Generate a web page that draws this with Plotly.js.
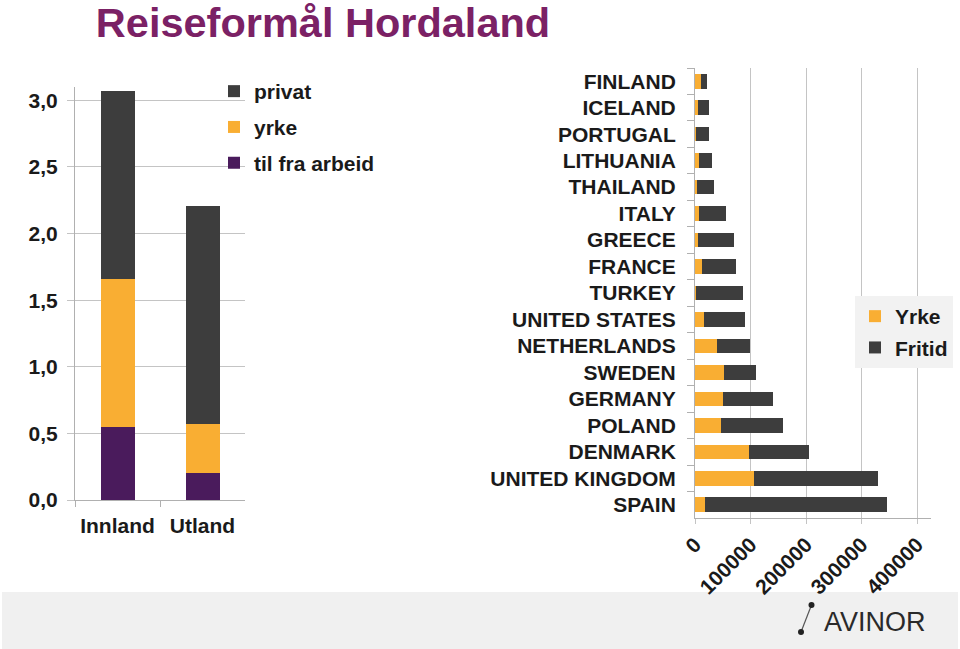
<!DOCTYPE html>
<html>
<head>
<meta charset="utf-8">
<script src="https://cdn.plot.ly/plotly-3.0.1.min.js"></script>
<style>html,body{margin:0;padding:0;background:#fff;}#chart{width:960px;height:649px;}</style>
</head>
<body>
<div id="chart"></div>
<script>
// Left chart data
const regions = ['Innland', 'Utland'];
const tilFraArbeid = [0.55, 0.20];
const yrkeLeft = [1.11, 0.37];
const privat = [1.41, 1.64];

// Right chart data (top to bottom)
const countries = ['FINLAND', 'ICELAND', 'PORTUGAL', 'LITHUANIA', 'THAILAND', 'ITALY', 'GREECE', 'FRANCE', 'TURKEY',
  'UNITED STATES', 'NETHERLANDS', 'SWEDEN', 'GERMANY', 'POLAND', 'DENMARK', 'UNITED KINGDOM', 'SPAIN'];
const yrkeRight = [10000, 6000, 1500, 7000, 4000, 7000, 5000, 12600, 1000,
  16200, 39000, 51600, 50500, 46800, 97300, 106300, 17400];
const fritid = [12000, 18500, 24000, 24000, 31000, 49000, 66000, 61000, 85000,
  74500, 60700, 59000, 90500, 111000, 108500, 222600, 328500];
const xTicks = [0, 100000, 200000, 300000, 400000];

const C_DARK = '#3d3d3d', C_ORANGE = '#f9ae33', C_PURPLE = '#4a1b5c';
const FONT = 'Liberation Sans, Arial, sans-serif';
const bold = (s, c) => ({family: FONT, size: s, color: c || '#1a1a1a', weight: 'bold'});
const W = 960, H = 649;
const px = x => x / W, py = y => 1 - y / H;
const LW = 0.4, RW = 0.55;

const traces = [
  {type: 'bar', name: 'til fra arbeid', x: regions, y: tilFraArbeid, width: LW, marker: {color: C_PURPLE},
   xaxis: 'x', yaxis: 'y', legend: 'legend', legendgroup: 'g3', legendrank: 3},
  {type: 'bar', name: 'yrke', x: regions, y: yrkeLeft, width: LW, marker: {color: C_ORANGE},
   xaxis: 'x', yaxis: 'y', legend: 'legend', legendgroup: 'g2', legendrank: 2},
  {type: 'bar', name: 'privat', x: regions, y: privat, width: LW, marker: {color: C_DARK},
   xaxis: 'x', yaxis: 'y', legend: 'legend', legendgroup: 'g1', legendrank: 1},
  {type: 'bar', orientation: 'h', name: 'Yrke', y: countries, x: yrkeRight, width: RW, marker: {color: C_ORANGE},
   xaxis: 'x2', yaxis: 'y2', legend: 'legend2', legendgroup: 'd', legendrank: 1},
  {type: 'bar', orientation: 'h', name: 'Fritid', y: countries, x: fritid, width: RW, marker: {color: C_DARK},
   xaxis: 'x2', yaxis: 'y2', legend: 'legend2', legendgroup: 'e', legendrank: 2}
];

const gridC = '#c4c4c4', lineC = '#b0b0b0';

const layout = {
  width: W, height: H,
  margin: {l: 0, r: 0, t: 0, b: 0},
  paper_bgcolor: '#ffffff', plot_bgcolor: 'rgba(0,0,0,0)',
  barmode: 'stack',
  separators: ',.',
  showlegend: true,
  title: {text: 'Reiseformål Hordaland', font: bold(41.5, '#7b2165'),
    x: px(323), xanchor: 'center', xref: 'paper', y: 1 - 22 / H, yanchor: 'middle', yref: 'container'},
  xaxis: {domain: [px(75), px(245)], anchor: 'y', type: 'category', range: [-0.5, 1.5],
    showline: true, linecolor: lineC, linewidth: 1, ticks: 'outside', ticklen: 6, tickcolor: lineC,
    tickson: 'boundaries', showgrid: false, tickfont: bold(21), ticklabelstandoff: 7, fixedrange: true},
  yaxis: {domain: [py(500), py(87)], anchor: 'x', range: [0, 3.1], dtick: 0.5, tick0: 0, tickformat: '.1f',
    showline: true, linecolor: lineC, ticks: 'outside', ticklen: 7, tickcolor: gridC,
    showgrid: true, gridcolor: gridC, zeroline: false, tickfont: bold(21), ticklabelstandoff: 5},
  xaxis2: {domain: [px(695), px(931)], anchor: 'y2', range: [0, 425000], tickvals: xTicks,
    ticktext: xTicks.map(String), tickangle: -45, showline: true, linecolor: lineC,
    ticks: 'outside', ticklen: 5, tickcolor: gridC, showgrid: true, gridcolor: gridC, zeroline: false,
    tickfont: bold(21)},
  yaxis2: {domain: [py(518), py(68)], anchor: 'x2', type: 'category', autorange: 'reversed',
    showline: true, linecolor: lineC, ticks: 'outside', ticklen: 7, tickcolor: lineC,
    tickson: 'boundaries', showgrid: false, tickfont: bold(21), ticklabelstandoff: 14},
  legend: {x: px(214), y: py(71), xanchor: 'left', yanchor: 'top', traceorder: 'grouped',
    tracegroupgap: 5.5, font: bold(21), bgcolor: 'rgba(0,0,0,0)', itemclick: false},
  legend2: {x: px(855), y: py(296), xanchor: 'left', yanchor: 'top', traceorder: 'grouped',
    tracegroupgap: 1, font: bold(21), bgcolor: '#f2f2f2', itemclick: false},
  shapes: [
    {type: 'rect', xref: 'paper', yref: 'paper', x0: px(2), x1: px(958), y0: 0, y1: py(592),
     fillcolor: '#f0f0f0', line: {width: 0}, layer: 'below'},
    {type: 'line', xref: 'paper', yref: 'paper', x0: px(801), y0: py(632), x1: px(811.5), y1: py(605),
     line: {color: '#555', width: 1.2}},
    {type: 'circle', xref: 'paper', yref: 'paper', x0: px(798), x1: px(804), y0: py(635), y1: py(629),
     fillcolor: '#222', line: {width: 0}},
    {type: 'circle', xref: 'paper', yref: 'paper', x0: px(808.5), x1: px(814.5), y0: py(608), y1: py(602),
     fillcolor: '#222', line: {width: 0}}
  ],
  annotations: [
    {text: 'AVINOR', xref: 'paper', yref: 'paper', x: px(822), y: py(622), xanchor: 'left', yanchor: 'middle',
     showarrow: false, font: {family: FONT, size: 27, color: '#2a2a2a'}}
  ]
};

Plotly.newPlot('chart', traces, layout, {displayModeBar: false, staticPlot: true});
</script>
</body>
</html>
